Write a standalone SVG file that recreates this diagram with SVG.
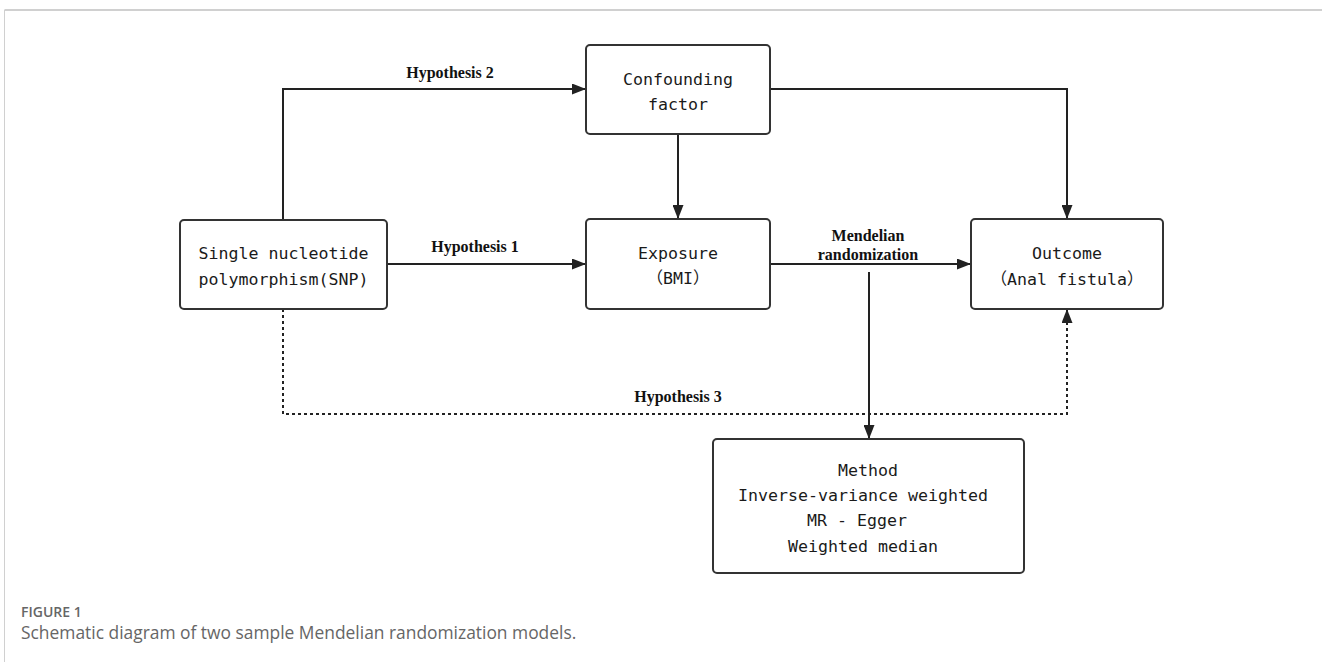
<svg xmlns="http://www.w3.org/2000/svg" width="1322" height="662" viewBox="0 0 1322 662">
<style>
.box{fill:#fff;stroke:#333;stroke-width:2}
.bt{font-family:"DejaVu Sans Mono","Noto Sans CJK SC",monospace;font-size:16.6px;fill:#1a1a1a;text-anchor:middle}
.hl{font-family:"Liberation Serif",serif;font-weight:bold;font-size:16px;fill:#111;text-anchor:middle}
.ln{fill:none;stroke:#222;stroke-width:2}
.dot{fill:none;stroke:#222;stroke-width:2;stroke-dasharray:3 3}
.cap1{font-family:"Open Sans",sans-serif;font-size:14px;font-weight:600;fill:#666}
.cap2{font-family:"Open Sans",sans-serif;font-size:17.4px;fill:#666}
</style>
<defs>
<marker id="ah" markerWidth="14" markerHeight="11" refX="14" refY="5.5" orient="auto" markerUnits="userSpaceOnUse">
<path d="M0,0 L14,5.5 L0,11 Z" fill="#222"/>
</marker>
</defs>
<rect width="1322" height="662" fill="#fff"/>
<g id="frame">
<line x1="4.5" y1="10" x2="1322" y2="10" stroke="#d0d0d0" stroke-width="2"/>
<line x1="4.5" y1="10" x2="4.5" y2="662" stroke="#d0d0d0" stroke-width="1"/>
</g>
<g id="connectors">
<path class="ln" d="M283,220 V89 H586" marker-end="url(#ah)"/>
<path class="ln" d="M770,89 H1067 V219" marker-end="url(#ah)"/>
<path class="ln" d="M678,134 V219" marker-end="url(#ah)"/>
<path class="ln" d="M387,264 H586" marker-end="url(#ah)"/>
<path class="ln" d="M770,264 H971" marker-end="url(#ah)"/>
<path class="ln" d="M869,272 V439" marker-end="url(#ah)"/>
<path class="dot" d="M283,309 V414 H1067 V309" marker-end="url(#ah)"/>
<text class="hl" x="450" y="78">Hypothesis 2</text>
<text class="hl" x="475" y="252">Hypothesis 1</text>
<text class="hl" x="678" y="402">Hypothesis 3</text>
<text class="hl" x="868" y="241">Mendelian</text>
<text class="hl" x="868" y="260">randomization</text>
</g>
<g id="confounding">
<rect class="box" x="586" y="45" width="184" height="89" rx="4"/>
<text class="bt" x="678" y="85">Confounding</text>
<text class="bt" x="678" y="110">factor</text>
</g>
<g id="snp">
<rect class="box" x="180" y="220" width="207" height="89" rx="4"/>
<text class="bt" x="283.5" y="259">Single nucleotide</text>
<text class="bt" x="283.5" y="285">polymorphism(SNP)</text>
</g>
<g id="exposure">
<rect class="box" x="586" y="219" width="184" height="90" rx="4"/>
<text class="bt" x="678" y="259">Exposure</text>
<text class="bt" x="678" y="284">（BMI）</text>
</g>
<g id="outcome">
<rect class="box" x="971" y="219" width="192" height="90" rx="4"/>
<text class="bt" x="1067" y="259">Outcome</text>
<text class="bt" x="1067" y="285">（Anal fistula）</text>
</g>
<g id="method">
<rect class="box" x="713" y="439" width="311" height="134" rx="4"/>
<text class="bt" x="868" y="476">Method</text>
<text class="bt" x="863" y="501">Inverse-variance weighted</text>
<text class="bt" x="857" y="526">MR - Egger</text>
<text class="bt" x="863" y="552">Weighted median</text>
</g>
<g id="caption">
<text class="cap1" x="21" y="617">FIGURE 1</text>
<text class="cap2" x="21" y="639">Schematic diagram of two sample Mendelian randomization models.</text>
</g>
</svg>
